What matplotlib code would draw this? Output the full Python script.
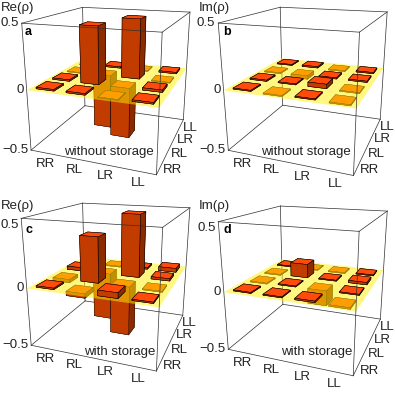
import numpy as np
import matplotlib
matplotlib.use("Agg")
import matplotlib.pyplot as plt
from mpl_toolkits.mplot3d import proj3d
from mpl_toolkits.mplot3d.art3d import Poly3DCollection

plt.rcParams["font.family"] = ["Liberation Sans", "DejaVu Sans"]

W, H = 395, 396
LABELS = ["RR", "RL", "LR", "LL"]
Z_TICKS = [0.5, 0, -0.5]
Z_TICK_TEXT = ["0.5", "0", "\u22120.5"]

# rows run front to back (y), columns left to right (x)
re_without = [[0.012, 0.012, -0.006, 0.012],
              [0.012, 0.46, -0.41, 0.018],
              [-0.006, -0.47, 0.49, -0.006],
              [-0.005, 0.012, -0.006, 0.012]]
im_without = [[0.008, -0.008, 0.008, -0.008],
              [0.01, 0.008, 0.035, -0.008],
              [-0.008, -0.03, 0.01, 0.01],
              [0.008, 0.012, -0.008, 0.01]]
re_with = [[0.012, -0.035, 0.045, 0.01],
           [-0.028, 0.385, -0.42, -0.008],
           [0.03, -0.425, 0.54, 0.02],
           [-0.005, -0.008, 0.012, 0.035]]
im_with = [[0.008, 0.008, 0.012, -0.012],
           [-0.008, 0.008, -0.125, 0.008],
           [-0.008, 0.12, 0.008, 0.02],
           [0.008, -0.006, -0.008, 0.008]]

panels = [
    ("a", "Re(\u03c1)", "without storage", re_without, (0, 0), (328, 456), 0.5),
    ("b", "Im(\u03c1)", "without storage", im_without, (198, 0), (325, 456), 0.5),
    ("c", "Re(\u03c1)", "with storage", re_with, (0, 198), (358, 461), 0.55),
    ("d", "Im(\u03c1)", "with storage", im_with, (198, 198), (356, 461), 0.55),
]

# box corners (3x zoom px inside each panel)
corners_px = {
    "a": [(65, 70), (487, 97), (570, 35), (250, 20), (92, 450), (470, 523), (553, 360), (255, 315),
          (80, 270), (478, 325), (555, 205), (250, 180)],
    "b": [(62, 68), (483, 97), (568, 35), (248, 20), (90, 450), (467, 528), (548, 355), (255, 315),
          (77, 272), (475, 325), (555, 207), (248, 178)],
    "c": [(65, 60), (487, 87), (570, 30), (248, 14), (95, 445), (467, 520), (550, 350), (255, 305),
          (80, 270), (478, 327), (558, 208), (250, 180)],
    "d": [(60, 72), (485, 100), (568, 40), (248, 24), (92, 455), (465, 533), (548, 365), (255, 318),
          (77, 282), (473, 340), (555, 215), (250, 185)],
}

TOP = "#ff4a0c"
FRONT = "#c23c00"
SIDE = "#8c2a00"
BAR_COLORS = [FRONT, TOP, FRONT, FRONT, FRONT, SIDE]
PLANE = (1.0, 0.94, 0.0, 0.5)
TEXT = "#222222"


def fit_projection(ax, name, offset, ztop):
    # camera matrix from the box corners, same perspective as the source plot
    base = [(0, 0), (4, 0), (4, 4), (0, 4)]
    world = [(x, y, z) for z in (ztop, -0.5, 0) for x, y in base]
    px = np.array(corners_px[name], dtype=float) / 3 + offset
    px[:, 1] = H - px[:, 1]
    target = ax.transData.inverted().transform(px)
    A, b = [], []
    for (x, y, z), (u, v) in zip(world, target):
        A.append([x, y, z, 1, 0, 0, 0, 0, -u * x, -u * y, -u * z])
        A.append([0, 0, 0, 0, x, y, z, 1, -v * x, -v * y, -v * z])
        b += [u, v]
    p = np.linalg.lstsq(np.array(A), np.array(b), rcond=None)[0]
    P = np.append(p, 1).reshape(3, 4)
    pts = np.c_[np.array(world), np.ones(12)]
    P /= (P[2] @ pts.T).mean()
    # third row gives depth as -1/w, so farther is larger
    return np.array([P[0], P[1], [0, 0, 0, -1], P[2]])


def box_lines(ax, t):
    back = [((0, 4, t), (4, 4, t)), ((0, 0, t), (0, 4, t)), ((4, 0, t), (4, 4, t)),
            ((0, 4, -.5), (0, 4, t)), ((4, 4, -.5), (4, 4, t)),
            ((0, 0, -.5), (0, 4, -.5)), ((0, 4, -.5), (4, 4, -.5))]
    front = [((0, 0, t), (4, 0, t)), ((0, 0, -.5), (0, 0, t)), ((4, 0, -.5), (4, 0, t)),
             ((0, 0, -.5), (4, 0, -.5)), ((4, 0, -.5), (4, 4, -.5))]
    for seg, zo in [(back, 1), (front, 200)]:
        for p, q in seg:
            ax.plot(*zip(p, q), color="#303030", lw=0.5, zorder=zo)


def label(ax, M, x, y, z, s, ha="center"):
    u, v, _ = proj3d.proj_transform(x, y, z, M)
    ax.text2D(u, v, s, transform=ax.transData, ha=ha, va="center", fontsize=9.5, color=TEXT)


fig = plt.figure(figsize=(W / 100, H / 100), dpi=100)

for name, part, note, values, offset, note_xy, ztop in panels:
    col, row = offset[0] > 0, offset[1] > 0
    ax = fig.add_axes([0.5 * col, 0.5 * (not row), 0.5, 0.5], projection="3d")
    ax.set_axis_off()
    ax.patch.set_visible(False)
    ax.computed_zorder = False
    ax.set_proj_type("ortho")  # stops mplot3d clipping points, the camera comes from get_proj
    ax.apply_aspect()
    M = fit_projection(ax, name, offset, ztop)
    ax.get_proj = lambda M=M: M

    box_lines(ax, ztop)

    # far bars first
    cells = []
    for j in range(4):
        for i in range(4):
            centre = np.array([i + .5, j + .5, 0, 1])
            cells.append(((M[3] @ centre), i, j, values[j][i]))
    cells.sort(key=lambda c: -c[0])

    plane = Poly3DCollection([[(0, 0, 0), (4, 0, 0), (4, 4, 0), (0, 4, 0)]],
                             facecolors=[PLANE], edgecolors="none", zorder=50)
    ax.add_collection3d(plane)

    for n, (_, i, j, v) in enumerate(cells):
        ax.bar3d(i + .2, j + .2, min(v, 0), .6, .6, abs(v), color=BAR_COLORS, shade=False,
                 edgecolor="black", linewidth=0.35 if v > 0 else 0.25,
                 zorder=(60 if v > 0 else 10) + n)

    for i, lab in enumerate(LABELS):
        label(ax, M, i * .93 + .85, -.55, -.5, lab)
        label(ax, M, 4.35, i + .4, -.5, lab)
    for z, lab in zip(Z_TICKS, Z_TICK_TEXT):
        label(ax, M, -.1, 0, z, lab, ha="right")

    ox, oy = offset
    fig.text((ox + 1) / W, 1 - (oy + 8) / H, part, ha="left", va="center", fontsize=9.5, color=TEXT)
    fig.text((ox + 25) / W, 1 - (oy + 32) / H, name, ha="left", va="center", fontsize=9,
             fontweight="bold", color="black")
    fig.text((ox + note_xy[0] / 3) / W, 1 - (oy + note_xy[1] / 3) / H, note, ha="center", va="center",
             fontsize=9.5, color=TEXT)

fig.savefig("out.png", dpi=100)
